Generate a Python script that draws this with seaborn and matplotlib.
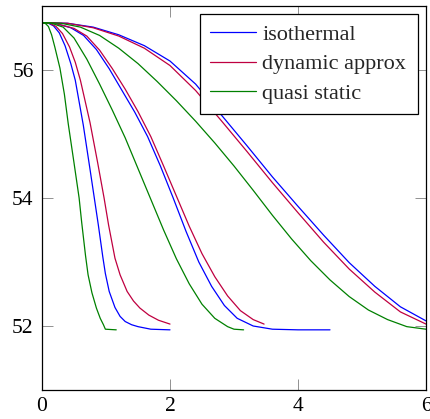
import numpy as np
import pandas as pd
import matplotlib
matplotlib.use("Agg")
import matplotlib.pyplot as plt
from matplotlib.lines import Line2D
import seaborn as sns

# ---- data ----
# isothermal (blue)
iso_fast_x = [0, 0.1, 0.18, 0.27, 0.36, 0.45, 0.52, 0.645, 0.75, 0.88, 0.95, 0.99, 1.05, 1.14, 1.22, 1.30, 1.40, 1.50, 1.7, 2.0]
iso_fast_y = [56.74, 56.73, 56.69, 56.58, 56.38, 56.10, 55.84, 55.14, 54.45, 53.58, 53.08, 52.82, 52.54, 52.29, 52.15, 52.07, 52.02, 51.99, 51.95, 51.94]
iso_mid_x = [0, 0.2, 0.45, 0.65, 0.85, 1.05, 1.25, 1.45, 1.65, 1.85, 2.05, 2.25, 2.45, 2.65, 2.85, 3.05, 3.3, 3.6, 4.0, 4.5]
iso_mid_y = [56.74, 56.73, 56.66, 56.54, 56.32, 56.02, 55.68, 55.34, 54.96, 54.50, 54.00, 53.48, 53.00, 52.62, 52.32, 52.12, 52.00, 51.95, 51.94, 51.94]
iso_slow_x = [0, 0.4, 0.8, 1.2, 1.6, 2.0, 2.4, 2.8, 3.2, 3.6, 4.0, 4.4, 4.8, 5.2, 5.6, 6.0]
iso_slow_y = [56.74, 56.73, 56.67, 56.55, 56.38, 56.14, 55.78, 55.30, 54.82, 54.33, 53.87, 53.42, 52.99, 52.62, 52.30, 52.08]

# dynamic approx (crimson)
dyn_fast_x = [0, 0.12, 0.22, 0.32, 0.43, 0.52, 0.6, 0.75, 0.87, 0.97, 1.04, 1.14, 1.22, 1.33, 1.43, 1.53, 1.67, 1.82, 2.0]
dyn_fast_y = [56.74, 56.73, 56.68, 56.57, 56.36, 56.12, 55.84, 55.18, 54.55, 54.00, 53.58, 53.06, 52.80, 52.54, 52.39, 52.28, 52.17, 52.09, 52.03]
dyn_mid_x = [0, 0.2, 0.5, 0.7, 0.9, 1.1, 1.3, 1.5, 1.7, 1.9, 2.1, 2.3, 2.5, 2.7, 2.9, 3.1, 3.3, 3.47]
dyn_mid_y = [56.74, 56.73, 56.65, 56.53, 56.31, 56.02, 55.70, 55.35, 54.96, 54.50, 54.03, 53.56, 53.13, 52.77, 52.47, 52.24, 52.10, 52.03]
dyn_slow_x = [0, 0.4, 0.8, 1.2, 1.6, 2.0, 2.4, 2.8, 3.2, 3.6, 4.0, 4.4, 4.8, 5.2, 5.6, 6.0]
dyn_slow_y = [56.74, 56.73, 56.66, 56.53, 56.34, 56.07, 55.68, 55.21, 54.73, 54.24, 53.77, 53.31, 52.89, 52.53, 52.22, 52.03]

# quasi static (green)
qs_fast_x = [0, 0.05, 0.1, 0.15, 0.2, 0.28, 0.35, 0.41, 0.5, 0.58, 0.62, 0.68, 0.72, 0.78, 0.85, 0.91, 0.96, 0.99, 1.16]
qs_fast_y = [56.74, 56.73, 56.68, 56.55, 56.36, 56.03, 55.62, 55.16, 54.55, 54.00, 53.62, 53.10, 52.80, 52.52, 52.28, 52.12, 52.02, 51.95, 51.94]
qs_mid_x = [0, 0.15, 0.33, 0.5, 0.7, 0.9, 1.1, 1.3, 1.5, 1.7, 1.9, 2.1, 2.3, 2.5, 2.7, 2.9, 3.0, 3.15]
qs_mid_y = [56.74, 56.73, 56.67, 56.50, 56.17, 55.78, 55.37, 54.94, 54.46, 53.98, 53.50, 53.05, 52.66, 52.34, 52.12, 51.99, 51.95, 51.94]
qs_slow_x = [0, 0.3, 0.6, 0.9, 1.2, 1.5, 1.8, 2.1, 2.4, 2.7, 3.0, 3.3, 3.6, 3.9, 4.2, 4.5, 4.8, 5.1, 5.4, 5.7, 6.0]
qs_slow_y = [56.74, 56.73, 56.67, 56.54, 56.34, 56.10, 55.82, 55.52, 55.20, 54.86, 54.50, 54.12, 53.73, 53.36, 53.02, 52.72, 52.46, 52.25, 52.10, 51.99, 51.95]

labels = ["isothermal", "dynamic approx", "quasi static"]
colors = {"isothermal": "#0000ff", "dynamic approx": "#bf0040", "quasi static": "#008000"}
x_ticks = [0, 2, 4, 6]
y_ticks = [52, 54, 56]

series = [
    ("isothermal", "a", iso_fast_x, iso_fast_y),
    ("isothermal", "b", iso_mid_x, iso_mid_y),
    ("isothermal", "c", iso_slow_x, iso_slow_y),
    ("dynamic approx", "a", dyn_fast_x, dyn_fast_y),
    ("dynamic approx", "b", dyn_mid_x, dyn_mid_y),
    ("dynamic approx", "c", dyn_slow_x, dyn_slow_y),
    ("quasi static", "a", qs_fast_x, qs_fast_y),
    ("quasi static", "b", qs_mid_x, qs_mid_y),
    ("quasi static", "c", qs_slow_x, qs_slow_y),
]
frames = []
for model, run, xs, ys in series:
    frames.append(pd.DataFrame({"x": xs, "y": ys, "model": model, "run": model + run}))
df = pd.concat(frames, ignore_index=True)

sns.set_style("ticks")
plt.rcParams["font.family"] = ["Liberation Serif", "DejaVu Serif"]

fig = plt.figure(figsize=(4.30, 4.19), dpi=100)
ax = fig.add_axes([42 / 430, 29 / 419, 384 / 430, 384 / 419])

sns.lineplot(data=df, x="x", y="y", hue="model", units="run", estimator=None,
             sort=False, palette=colors, hue_order=labels, linewidth=0.9,
             legend=False, ax=ax)

ax.set_xlim(0, 6)
ax.set_ylim(51, 57)
ax.set_xticks(x_ticks)
ax.set_yticks(y_ticks)
ax.set_xticklabels([str(t) for t in x_ticks])
ax.set_yticklabels([str(t) for t in y_ticks])
ax.set_xlabel("")
ax.set_ylabel("")
ax.tick_params(axis="both", direction="in", length=8, width=0.6, color="#808080",
               labelsize=15.5, labelcolor="black", top=True, right=True)
ax.tick_params(axis="x", pad=5)
ax.tick_params(axis="y", pad=6)
for s in ax.spines.values():
    s.set_visible(True)
    s.set_color("black")
    s.set_linewidth(0.9)

handles = [Line2D([0], [0], color=colors[l], lw=0.9) for l in labels]
leg = ax.legend(handles, labels, loc="upper left",
                bbox_to_anchor=(158 / 384, 0.3, 218 / 384, 1 - 8 / 384 - 0.3),
                mode="expand", borderaxespad=0, fontsize=16, frameon=True, fancybox=False,
                handlelength=2.07, handletextpad=0.27, labelspacing=0.40,
                borderpad=0.47)
leg.get_frame().set_edgecolor("black")
leg.get_frame().set_linewidth(0.9)
leg.get_frame().set_alpha(1)

fig.savefig("out.png", dpi=100)
